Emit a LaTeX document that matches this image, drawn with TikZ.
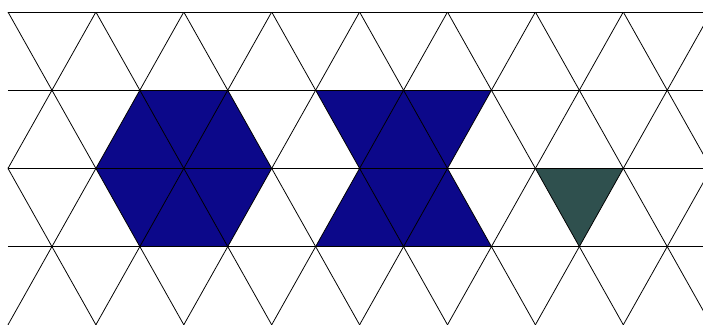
\documentclass[tikz,border=0pt]{standalone}
\usepackage{tikz}
\definecolor{tilenavy}{RGB}{12,8,138}
\definecolor{tileslate}{RGB}{47,80,78}

\begin{document}
\begin{tikzpicture}[x=1.758cm,y=-1.564cm,
    lattice/.style={black,line width=0.45pt}]
    \useasboundingbox (-0.091,-0.1535) rectangle (7.907,3.99);
    % filled tiles
    \fill[tilenavy] (1,2) -- (1.5,1) -- (2.5,1) -- (3,2) -- (2.5,3) -- (1.5,3) -- cycle;
    \fill[tilenavy] (3.5,1) -- (5.5,1) -- (5,2) -- (5.5,3) -- (3.5,3) -- (4,2) -- cycle;
    \fill[tileslate] (6,2) -- (7,2) -- (6.5,3) -- cycle;
    % triangular lattice
    \begin{scope}
        \clip (0,0) rectangle (8.2,4.2);
        \foreach \r in {0,...,3}
            \draw[lattice] (0,\r) -- (8.2,\r);
        \foreach \k in {-4,...,10} {
            \draw[lattice] (\k,0) -- (\k+2.5,5);
            \draw[lattice] (\k,0) -- (\k-2.5,5);
        }
    \end{scope}
\end{tikzpicture}
\end{document}
